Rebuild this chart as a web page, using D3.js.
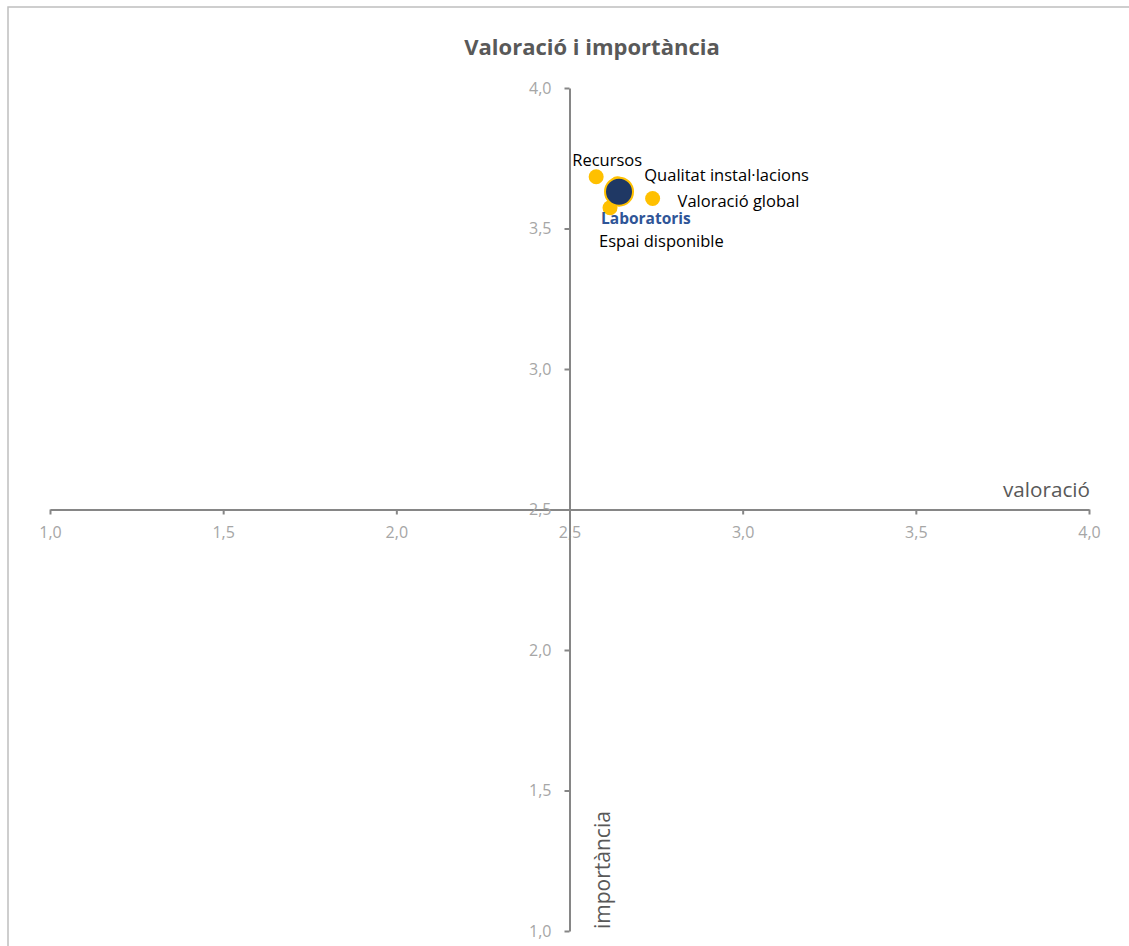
<!DOCTYPE html>
<html><head><meta charset="utf-8">
<script src="https://cdn.jsdelivr.net/npm/d3@7"></script>
<style>body{margin:0;background:#fff}svg{display:block}</style>
</head><body>
<script>
// ---- data ----
const itemNames = ["Recursos", "Qualitat instal·lacions", "Valoració global", "Espai disponible"];
const itemValoracio = [2.577, 2.638, 2.740, 2.617];
const itemImportancia = [3.684, 3.659, 3.607, 3.574];
const groupName = ["Laboratoris"];
const groupValoracio = [2.643];
const groupImportancia = [3.631];
const xTicks = [1.0, 1.5, 2.0, 2.5, 3.0, 3.5, 4.0];
const yTicks = [1.0, 1.5, 2.0, 2.5, 3.0, 3.5, 4.0];

// ---- layout ----
const W = 1129, H = 946;
const font = "'Open Sans', Lato, sans-serif";
const svg = d3.select("body").append("svg").attr("width", W).attr("height", H);

svg.append("rect").attr("x", 8).attr("y", 7).attr("width", 1300).attr("height", 1100)
  .attr("fill", "#fff").attr("stroke", "#bfbfbf").attr("stroke-width", 1.5);

const x = d3.scaleLinear().domain([1, 4]).range([50, 1089]);
const y = d3.scaleLinear().domain([1, 4]).range([931, 88]);
const fmt = d => d3.format(".1f")(d).replace(".", ",");

// X axis crossing at y=2.5
const gx = svg.append("g").attr("transform", `translate(0,${y(2.5)})`)
  .call(d3.axisBottom(x).tickValues(xTicks).tickFormat(fmt).tickSizeOuter(0).tickSizeInner(5).tickPadding(12));
// Y axis crossing at x=2.5
const gy = svg.append("g").attr("transform", `translate(${x(2.5)},0)`)
  .call(d3.axisLeft(y).tickValues(yTicks).tickFormat(fmt).tickSizeOuter(0).tickSizeInner(5).tickPadding(13));
[gx, gy].forEach(g => {
  g.select(".domain").attr("stroke", "#868686").attr("stroke-width", 2);
  g.selectAll(".tick line").attr("stroke", "#868686").attr("stroke-width", 2);
  g.selectAll(".tick text").attr("fill", "#a6a6a6").style("font-family", font).style("font-size", "16px");
});

// Title
svg.append("text").attr("x", 592).attr("y", 55).attr("text-anchor", "middle")
  .style("font-family", font).style("font-size", "22px").style("font-weight", "bold")
  .attr("fill", "#595959").text("Valoració i importància");

// Axis titles
svg.append("text").attr("x", 1090).attr("y", 497).attr("text-anchor", "end")
  .style("font-family", font).style("font-size", "20.7px").attr("fill", "#595959").text("valoració");
svg.append("text").attr("transform", `translate(610,929) rotate(-90)`).attr("text-anchor", "start")
  .style("font-family", font).style("font-size", "21px").attr("fill", "#595959").text("importància");

// Items
const items = itemNames.map((n, i) => ({ name: n, vx: itemValoracio[i], vy: itemImportancia[i] }));
svg.append("g").selectAll("circle").data(items).join("circle")
  .attr("cx", d => x(d.vx)).attr("cy", d => y(d.vy)).attr("r", 7.5).attr("fill", "#ffc000");

// Group aggregate
const groups = groupName.map((n, i) => ({ name: n, vx: groupValoracio[i], vy: groupImportancia[i] }));
svg.append("g").selectAll("circle").data(groups).join("circle")
  .attr("cx", d => x(d.vx)).attr("cy", d => y(d.vy)).attr("r", 14)
  .attr("fill", "#1f3864").attr("stroke", "#ffc000").attr("stroke-width", 2);

// Labels (pixel offsets from each point)
const labelOffsets = {
  "Recursos": { dx: 11, dy: -17, anchor: "middle" },
  "Qualitat instal·lacions": { dx: 27, dy: -9, anchor: "start" },
  "Valoració global": { dx: 25, dy: 3, anchor: "start" },
  "Espai disponible": { dx: -11, dy: 33.5, anchor: "start" }
};
svg.append("g").selectAll("text").data(items).join("text")
  .attr("x", d => x(d.vx) + labelOffsets[d.name].dx)
  .attr("y", d => y(d.vy) + labelOffsets[d.name].dy)
  .attr("dy", "0.35em").attr("text-anchor", d => labelOffsets[d.name].anchor)
  .style("font-family", font).style("font-size", "16.5px").attr("fill", "#000")
  .text(d => d.name);
svg.append("g").selectAll("text").data(groups).join("text")
  .attr("x", d => x(d.vx) - 18).attr("y", d => y(d.vy) + 27)
  .attr("dy", "0.35em").attr("text-anchor", "start")
  .style("font-family", font).style("font-size", "15.5px").style("font-weight", "bold")
  .attr("fill", "#2f5597").text(d => d.name);
</script>
</body></html>
